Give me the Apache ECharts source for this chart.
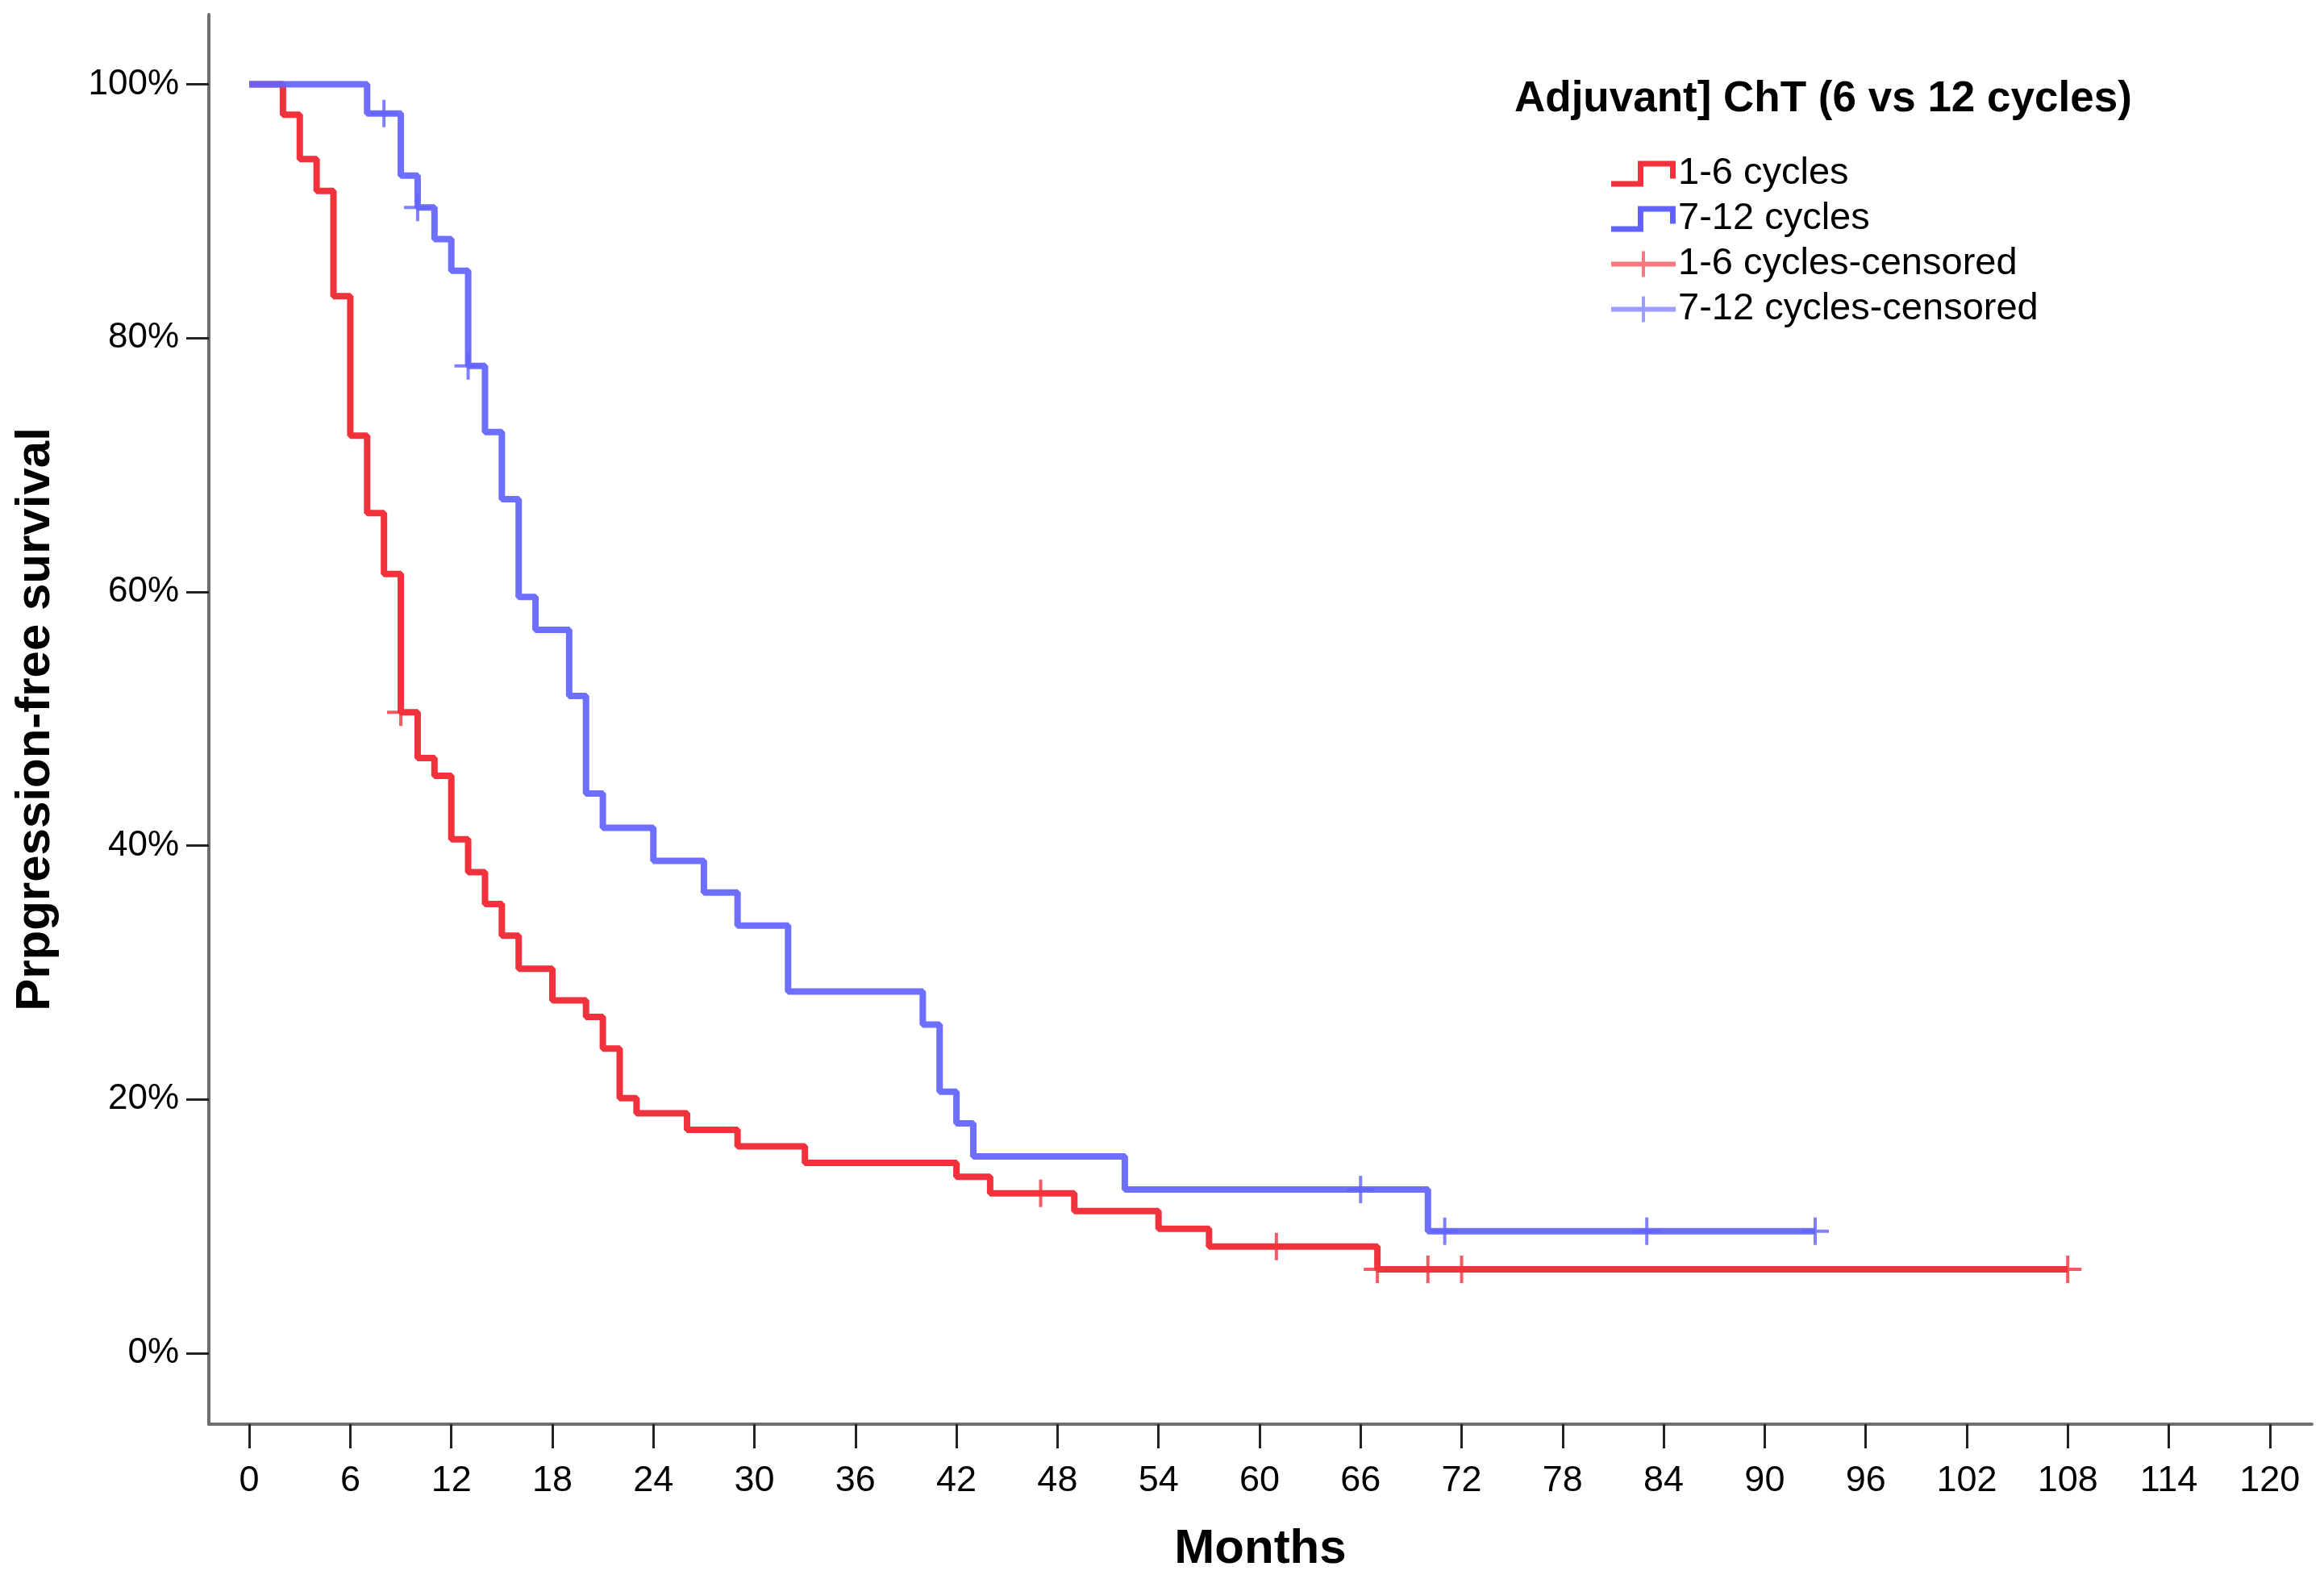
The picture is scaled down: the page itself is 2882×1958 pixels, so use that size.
<!DOCTYPE html>
<html>
<head>
<meta charset="utf-8">
<script src="https://cdn.jsdelivr.net/npm/echarts@6/dist/echarts.min.js"></script>
<style>
html,body{margin:0;padding:0;background:#fff;}
#c{width:2882px;height:1958px;}
</style>
</head>
<body>
<div id="c"></div>
<script>
// ---- Data (months, % progression-free) ----
const monthTicks = [0,6,12,18,24,30,36,42,48,54,60,66,72,78,84,90,96,102,108,114,120];
const pctTicks = [0,20,40,60,80,100];

const redTimes = [0,2,3,4,5,6,7,8,9,10,11,12,13,14,15,16,18,20,21,22,23,26,29,33,42,44,49,54,57,67,108];
const redSurv  = [100,97.6,94.1,91.6,83.3,72.3,66.2,61.4,50.5,46.9,45.5,40.5,37.9,35.4,32.9,30.3,27.8,26.5,24.0,20.1,18.9,17.6,16.3,15.0,13.9,12.6,11.2,9.8,8.4,6.6,6.6];

const blueTimes = [0,7,9,10,11,12,13,14,15,16,17,19,20,21,24,27,29,32,40,41,42,43,52,70,93];
const blueSurv  = [100,97.7,92.8,90.3,87.8,85.3,77.8,72.6,67.3,59.6,57.0,51.8,44.1,41.4,38.8,36.3,33.7,28.5,25.9,20.6,18.1,15.5,12.9,9.6,9.6];

const redCensorTimes = [9,47,61,67,70,72,108];
const redCensorSurv  = [50.5,12.6,8.4,6.6,6.6,6.6,6.6];

const blueCensorTimes = [8,10,13,66,71,83,93];
const blueCensorSurv  = [97.7,90.3,77.8,12.9,9.6,9.6,9.6];

const seriesNames = ['1-6 cycles','7-12 cycles','1-6 cycles-censored','7-12 cycles-censored'];
const legendTitle = 'Adjuvant] ChT (6 vs 12 cycles)';

// ---- helpers ----
const zip = (a,b) => a.map((v,i) => [v,b[i]]);
const RED = '#f0323c', BLUE = '#6262ff';
const FONT = "'Liberation Sans', Arial, sans-serif";
const plusPath = 'path://M-2,-17h4v34h-4z M-17,-2h34v4h-34z';
const stepIcon = 'path://M0,25h40v7h-40z M33,0h7v32h-7z M33,0h47v7h-47z M73,0h7v22h-7z';
const censIcon = 'path://M0,13h80v6h-80z M38,0h4v32h-4z';

const chart = echarts.init(document.getElementById('c'), null, {renderer:'canvas'});
chart.setOption({
  animation: false,
  backgroundColor: '#fff',
  title: {
    text: legendTitle,
    left: 1878, top: 97, padding: 0,
    textStyle: {fontFamily: FONT, fontSize: 53, fontWeight: 'bold', color: '#000'}
  },
  legend: {
    orient: 'vertical',
    left: 1998, top: 192, padding: 0,
    itemWidth: 80, itemHeight: 32, itemGap: 9,
    textStyle: {fontFamily: FONT, fontSize: 47, color: '#000', padding: [0,0,0,-2]},
    data: [
      {name: seriesNames[0], icon: stepIcon},
      {name: seriesNames[1], icon: stepIcon},
      {name: seriesNames[2], icon: censIcon, itemStyle: {color: '#f2575f'}},
      {name: seriesNames[3], icon: censIcon, itemStyle: {color: '#8585ff'}}
    ]
  },
  grid: {left: 259, top: 18, right: 15, bottom: 192, containLabel: false},
  xAxis: {
    type: 'value',
    min: -2.4, max: 122.5,
    name: 'Months', nameLocation: 'middle', nameGap: 125,
    nameTextStyle: {fontFamily: FONT, fontSize: 60, fontWeight: 'bold', color: '#000'},
    axisLine: {show: true, onZero: false, lineStyle: {color: '#6e6e6e', width: 4}},
    axisTick: {show: true, customValues: monthTicks, length: 30, lineStyle: {color: '#222', width: 3}},
    axisLabel: {customValues: monthTicks, margin: 48, fontFamily: FONT, fontSize: 45, color: '#000'},
    splitLine: {show: false}
  },
  yAxis: {
    type: 'value',
    min: -5.6, max: 105.5,
    name: 'Prpgression-free survival', nameLocation: 'middle', nameGap: 185,
    nameTextStyle: {fontFamily: FONT, fontSize: 60, fontWeight: 'bold', color: '#000'},
    axisLine: {show: true, onZero: false, lineStyle: {color: '#6e6e6e', width: 4}},
    axisTick: {show: true, customValues: pctTicks, length: 28, lineStyle: {color: '#222', width: 3}},
    axisLabel: {customValues: pctTicks, margin: 37, fontFamily: FONT, fontSize: 44, color: '#000',
      formatter: v => v + '%'},
    splitLine: {show: false}
  },
  series: [
    {
      name: seriesNames[0], type: 'line', step: 'end', showSymbol: false,
      data: zip(redTimes, redSurv),
      lineStyle: {color: RED, width: 8}, itemStyle: {color: RED}, z: 3
    },
    {
      name: seriesNames[1], type: 'line', step: 'end', showSymbol: false,
      data: zip(blueTimes, blueSurv),
      lineStyle: {color: BLUE, width: 8, opacity: 0.92}, itemStyle: {color: BLUE}, z: 4
    },
    {
      name: seriesNames[2], type: 'scatter', symbol: plusPath, symbolSize: 34,
      data: zip(redCensorTimes, redCensorSurv),
      itemStyle: {color: RED}, z: 5
    },
    {
      name: seriesNames[3], type: 'scatter', symbol: plusPath, symbolSize: 34,
      data: zip(blueCensorTimes, blueCensorSurv),
      itemStyle: {color: BLUE}, z: 5
    }
  ]
});
</script>
</body>
</html>
